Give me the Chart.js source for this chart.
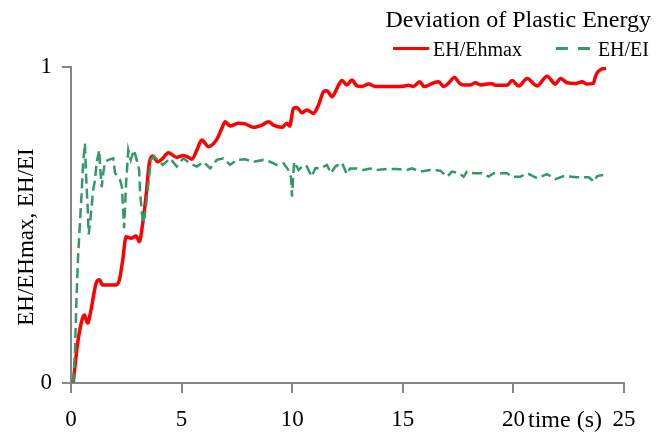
<!DOCTYPE html>
<html>
<head>
<meta charset="utf-8">
<title>Deviation of Plastic Energy</title>
<script src="https://cdn.jsdelivr.net/npm/chart.js@4.4.1/dist/chart.umd.min.js"></script>
<style>
  html, body { margin: 0; padding: 0; background: #fff; }
  #wrap { width: 656px; height: 432px; }
</style>
</head>
<body>
<div id="wrap"><canvas id="energyChart" width="656" height="432"></canvas></div>
<script>
// EH/Ehmax curve (time in s, ratio)
const ehTime = [0.10, 0.30, 0.50, 0.60, 0.75, 0.90, 1.13, 1.28, 1.43, 2.04, 2.19, 2.34, 2.49, 2.71, 2.94,
  3.09, 3.24, 3.39, 3.54, 3.70, 3.92, 4.15, 4.40, 4.78, 5.08, 5.31, 5.46, 5.69, 5.91, 6.21, 6.59, 6.82,
  6.97, 7.19, 7.57, 7.87, 8.25, 8.63, 8.93, 9.15, 9.53, 9.76, 9.88, 10.06, 10.21, 10.44, 10.66, 10.96,
  11.19, 11.42, 11.57, 11.80, 12.02, 12.25, 12.47, 12.70, 12.93, 13.15, 13.45, 13.76, 14.89, 15.26,
  15.48, 15.76, 15.97, 16.40, 16.62, 16.85, 17.08, 17.33, 17.57, 17.75, 18.05, 18.28, 18.51, 18.81,
  19.03, 19.18, 19.71, 19.94, 20.24, 20.62, 21.07, 21.52, 21.90, 22.13, 22.43, 22.81, 23.11, 23.30,
  23.61, 23.71, 23.82, 24.01, 24.19];
const ehMaxRatio = [0.000, 0.126, 0.200, 0.215, 0.190, 0.230, 0.315, 0.327, 0.310, 0.310, 0.327, 0.390,
  0.463, 0.458, 0.465, 0.447, 0.505, 0.590, 0.695, 0.718, 0.700, 0.711, 0.729, 0.714, 0.720, 0.714,
  0.708, 0.737, 0.769, 0.748, 0.771, 0.806, 0.827, 0.813, 0.822, 0.820, 0.809, 0.816, 0.827, 0.816,
  0.809, 0.822, 0.813, 0.869, 0.872, 0.855, 0.864, 0.853, 0.880, 0.922, 0.925, 0.906, 0.932, 0.957,
  0.943, 0.959, 0.940, 0.938, 0.946, 0.938, 0.938, 0.942, 0.938, 0.953, 0.938, 0.950, 0.953, 0.938,
  0.950, 0.967, 0.948, 0.943, 0.943, 0.950, 0.943, 0.946, 0.947, 0.942, 0.942, 0.957, 0.940, 0.964,
  0.940, 0.971, 0.946, 0.964, 0.950, 0.948, 0.953, 0.946, 0.948, 0.970, 0.985, 0.994, 0.996];

// EH/EI curve (time in s, ratio)
const eiTime = [0.10, 0.18, 0.25, 0.32, 0.40, 0.48, 0.55, 0.63, 0.68, 0.75, 0.80, 0.88, 1.00, 1.08, 1.16,
  1.28, 1.31, 1.39, 1.46, 1.54, 1.69, 1.91, 1.99, 2.22, 2.30, 2.40, 2.49, 2.59, 2.70, 2.85, 2.97, 3.08,
  3.12, 3.20, 3.27, 3.39, 3.50, 3.61, 3.73, 3.95, 4.15, 4.48, 4.78, 5.08, 5.38, 5.69, 5.99, 6.29, 6.59,
  6.89, 7.19, 7.50, 7.87, 8.25, 8.70, 9.00, 9.31, 9.61, 9.83, 9.95, 9.99, 10.05, 10.09, 10.29, 10.51,
  10.66, 10.88, 11.05, 11.27, 11.57, 11.75, 11.95, 12.25, 12.47, 12.62, 12.93, 13.23, 13.53, 13.76,
  14.29, 14.74, 15.19, 15.41, 15.79, 16.24, 16.70, 17.00, 17.23, 17.53, 17.75, 17.90, 18.20, 18.58,
  18.88, 19.11, 19.71, 19.94, 20.32, 20.62, 21.07, 21.52, 21.90, 22.28, 22.88, 23.41, 23.64, 23.79, 24.06];
const eiRatio = [0.000, 0.100, 0.270, 0.400, 0.500, 0.600, 0.700, 0.758, 0.660, 0.560, 0.470, 0.520,
  0.610, 0.640, 0.700, 0.737, 0.690, 0.620, 0.665, 0.700, 0.706, 0.711, 0.665, 0.642, 0.621, 0.490,
  0.633, 0.737, 0.706, 0.737, 0.706, 0.674, 0.610, 0.538, 0.505, 0.558, 0.632, 0.706, 0.716, 0.706,
  0.690, 0.711, 0.685, 0.711, 0.695, 0.685, 0.700, 0.679, 0.706, 0.711, 0.690, 0.706, 0.708, 0.700,
  0.706, 0.700, 0.690, 0.695, 0.674, 0.650, 0.590, 0.660, 0.700, 0.674, 0.690, 0.685, 0.653, 0.680,
  0.679, 0.690, 0.664, 0.685, 0.697, 0.661, 0.679, 0.679, 0.674, 0.679, 0.674, 0.677, 0.677, 0.674,
  0.679, 0.669, 0.674, 0.672, 0.653, 0.669, 0.664, 0.653, 0.669, 0.664, 0.664, 0.653, 0.664, 0.664,
  0.653, 0.653, 0.664, 0.648, 0.661, 0.645, 0.655, 0.651, 0.651, 0.637, 0.655, 0.658];

const xTickValues = [0, 5, 10, 15, 20, 25];
const yTickValues = [0, 1];
const seriesNames = ['EH/Ehmax', 'EH/EI'];
const chartTitle = 'Deviation of Plastic Energy';
const xAxisTitle = 'time (s)';
const yAxisTitle = 'EH/EHmax, EH/EI';

const SERIF = "'Liberation Serif', 'Times New Roman', serif";
const RED = '#ff0000';
const GREEN = '#339966';
const AXIS = '#868686';

const toPoints = (xs, ys) => xs.map((x, i) => ({ x: x, y: ys[i] }));

// title, line legend, inline x caption and the rotated y caption
const headerPlugin = {
  id: 'header',
  afterDraw(chart) {
    const ctx = chart.ctx;
    ctx.save();
    ctx.fillStyle = '#000';
    ctx.textBaseline = 'alphabetic';

    ctx.font = '24px ' + SERIF;
    ctx.textAlign = 'right';
    ctx.fillText(chartTitle, 651, 27);

    ctx.font = '20px ' + SERIF;
    ctx.textAlign = 'left';
    const items = [
      { text: seriesNames[0], color: RED, width: 3, dash: [], gap: 4 },
      { text: seriesNames[1], color: GREEN, width: 3, dash: [12, 10], gap: 6 }
    ];
    const lineLen = 36, spacing = 34;
    let x = 649;
    for (let i = items.length - 1; i >= 0; i--) {
      const it = items[i];
      const tx = x - ctx.measureText(it.text).width;
      ctx.fillText(it.text, tx, 56);
      ctx.beginPath();
      ctx.strokeStyle = it.color;
      ctx.lineWidth = it.width;
      ctx.setLineDash(it.dash);
      ctx.moveTo(tx - it.gap - lineLen, 48.5);
      ctx.lineTo(tx - it.gap, 48.5);
      ctx.stroke();
      ctx.setLineDash([]);
      x = tx - it.gap - lineLen - spacing;
    }

    ctx.font = '24px ' + SERIF;
    ctx.fillText(xAxisTitle, 528, 427);

    ctx.font = '23px ' + SERIF;
    ctx.textAlign = 'center';
    ctx.translate(33, 237);
    ctx.rotate(-Math.PI / 2);
    ctx.fillText(yAxisTitle, 0, 0);
    ctx.restore();
  }
};

const ctx = document.getElementById('energyChart').getContext('2d');
new Chart(ctx, {
  type: 'line',
  data: {
    datasets: [{
      label: seriesNames[0],
      data: toPoints(ehTime, ehMaxRatio),
      borderColor: RED,
      borderWidth: 3.5,
      pointRadius: 0,
      cubicInterpolationMode: 'monotone',
      fill: false,
      order: 2
    }, {
      label: seriesNames[1],
      data: toPoints(eiTime, eiRatio),
      borderColor: GREEN,
      borderWidth: 2.5,
      borderDash: [10, 5],
      pointRadius: 0,
      tension: 0,
      fill: false,
      order: 1
    }]
  },
  options: {
    responsive: false,
    animation: false,
    devicePixelRatio: 1,
    layout: { padding: { top: 67, right: 32, bottom: 0, left: 0 } },
    plugins: {
      legend: { display: false },
      title: { display: false },
      tooltip: { enabled: false }
    },
    scales: {
      x: {
        type: 'linear',
        min: 0,
        max: 25,
        afterBuildTicks: s => { s.ticks = xTickValues.map(v => ({ value: v })); },
        afterFit: s => { s.height = 49; },
        ticks: { color: '#000', padding: 13, font: { family: SERIF, size: 23 } },
        grid: { drawOnChartArea: false, drawTicks: true, tickLength: 10, color: AXIS, lineWidth: 2 },
        border: { color: AXIS, width: 2 }
      },
      y: {
        min: 0,
        max: 1,
        afterBuildTicks: s => { s.ticks = yTickValues.map(v => ({ value: v })); },
        afterFit: s => { s.width = 71; },
        ticks: { color: '#000', padding: 10, font: { family: SERIF, size: 23 } },
        grid: { drawOnChartArea: false, drawTicks: true, tickLength: 9, color: AXIS, lineWidth: 2 },
        border: { color: AXIS, width: 2 }
      }
    }
  },
  plugins: [headerPlugin]
});
</script>
</body>
</html>
